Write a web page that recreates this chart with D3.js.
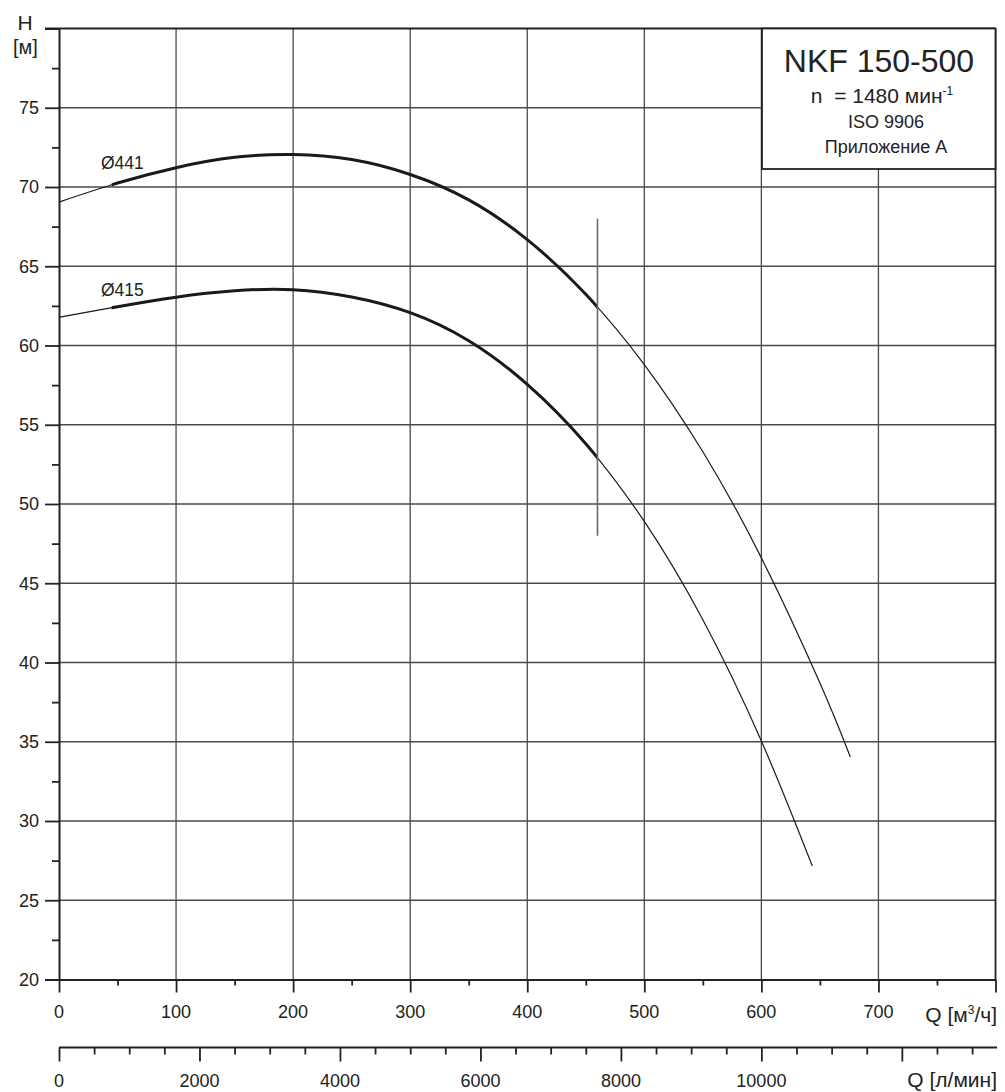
<!DOCTYPE html>
<html>
<head>
<meta charset="utf-8">
<script src="https://cdn.jsdelivr.net/npm/d3@7"></script>
<style>
  html, body { margin: 0; padding: 0; background: #fff; }
  svg { display: block; font-family: "Liberation Sans", Arial, sans-serif; }
  text { fill: #222; }
</style>
</head>
<body>
<svg id="chart" width="1005" height="1092"></svg>
<script>
// ---------- data ----------
const curveNames = ["Ø441", "Ø415"];
const q441 = [0, 50, 100, 150, 200, 250, 300, 350, 400, 450, 500, 550, 600, 650, 676];
const h441 = [69.05, 70.25, 71.22, 71.87, 72.05, 71.73, 70.79, 69.19, 66.68, 63.23, 58.8, 53.3, 46.6, 38.7, 34.04];
const q415 = [0, 50, 100, 150, 200, 250, 300, 350, 400, 450, 500, 550, 600, 643.5];
const h415 = [61.78, 62.45, 63.05, 63.45, 63.52, 63.06, 62.07, 60.3, 57.55, 53.8, 48.9, 42.7, 35.05, 27.16];
const thickRange = [45, 460];
const markerQ = 460;
const markerH = [48, 68];

const hMajor = [20, 25, 30, 35, 40, 45, 50, 55, 60, 65, 70, 75, 80];
const hMinor = [22.5, 27.5, 32.5, 37.5, 42.5, 47.5, 52.5, 57.5, 62.5, 67.5, 72.5, 77.5];
const hLabels = ["20", "25", "30", "35", "40", "45", "50", "55", "60", "65", "70", "75"];
const qMajor = [0, 100, 200, 300, 400, 500, 600, 700, 800];
const qMinor = [50, 150, 250, 350, 450, 550, 650, 750];
const qLabels = ["0", "100", "200", "300", "400", "500", "600", "700"];
const lMajor = [0, 2000, 4000, 6000, 8000, 10000, 12000];
const lMinor = [500, 1000, 1500, 2500, 3000, 3500, 4500, 5000, 5500, 6500, 7000, 7500, 8500, 9000, 9500, 10500, 11000, 11500, 12500, 13000];
const lLabels = ["0", "2000", "4000", "6000", "8000", "10000"];

const title = "NKF 150-500";
const speedText = "n  = 1480 мин";
const speedSup = "-1";
const infoLines = ["ISO 9906", "Приложение А"];
const yTitle = ["H", "[м]"];
const xTitle1 = "Q [м";
const xTitle1Sup = "3";
const xTitle1End = "/ч]";
const xTitle2 = "Q [л/мин]";

// ---------- layout ----------
const svg = d3.select("#chart");
const X0 = 59, X1 = 995.5, Y0 = 979.5, Y1 = 28.5;
const x = d3.scaleLinear().domain([0, 800]).range([X0, X1]);
const xl = d3.scaleLinear().domain([0, 800 * 1000 / 60]).range([X0, X1]);
const y = d3.scaleLinear().domain([20, 80]).range([Y0, Y1]);
const ink = "#222";
const gridCol = "#4a4a4a";

// grid
const grid = svg.append("g");
grid.selectAll("line.v").data(qMajor.filter(d => d > 0 && d < 800)).join("line")
  .attr("x1", d => x(d)).attr("x2", d => x(d)).attr("y1", Y1).attr("y2", Y0)
  .attr("stroke", gridCol).attr("stroke-width", 1.3);
grid.selectAll("line.h").data(hMajor.filter(d => d > 20 && d < 80)).join("line")
  .attr("x1", X0).attr("x2", X1).attr("y1", d => y(d)).attr("y2", d => y(d))
  .attr("stroke", gridCol).attr("stroke-width", 1.3);

// frame top & right
svg.append("line").attr("x1", 45).attr("x2", X1).attr("y1", Y1).attr("y2", Y1)
  .attr("stroke", ink).attr("stroke-width", 1.8);
svg.append("line").attr("x1", X1).attr("x2", X1).attr("y1", Y1).attr("y2", Y0)
  .attr("stroke", ink).attr("stroke-width", 1.8);

// y axis
const yMaj = d3.axisLeft(y).tickValues(hMajor).tickSize(14).tickFormat("");
const yMin = d3.axisLeft(y).tickValues(hMinor).tickSize(7).tickFormat("");
const gy = svg.append("g").attr("transform", `translate(${X0},0)`);
gy.call(yMaj);
gy.append("g").call(yMin).select(".domain").remove();
gy.selectAll("path.domain").attr("stroke", ink).attr("stroke-width", 2);
gy.selectAll(".tick line").attr("stroke", ink).attr("stroke-width", 1.8);
svg.append("g").selectAll("text").data(hLabels).join("text")
  .attr("x", 39).attr("y", d => y(+d) + 6.3)
  .attr("text-anchor", "end").attr("font-size", 18).text(d => d);

// x axis (m3/h)
const gx = svg.append("g").attr("transform", `translate(0,${Y0})`);
gx.call(d3.axisBottom(x).tickValues(qMajor).tickSize(13).tickSizeOuter(0).tickFormat(""));
gx.append("g").call(d3.axisBottom(x).tickValues(qMinor).tickSize(6).tickFormat("")).select(".domain").remove();
gx.selectAll("path.domain").attr("stroke", ink).attr("stroke-width", 2);
gx.selectAll(".tick line").attr("stroke", ink).attr("stroke-width", 1.8);
svg.append("g").selectAll("text").data(qLabels).join("text")
  .attr("x", d => x(+d)).attr("y", 1018)
  .attr("text-anchor", "middle").attr("font-size", 18).text(d => d);
const xt1 = svg.append("text").attr("x", 997).attr("y", 1021.5).attr("text-anchor", "end").attr("font-size", 21);
xt1.append("tspan").text(xTitle1);
xt1.append("tspan").attr("dy", -8).attr("font-size", 12).text(xTitle1Sup);
xt1.append("tspan").attr("dy", 8).text(xTitle1End);

// x axis (l/min)
const LY = 1047.5;
const gl = svg.append("g").attr("transform", `translate(0,${LY})`);
gl.call(d3.axisBottom(xl).tickValues(lMajor).tickSize(14).tickSizeOuter(0).tickFormat(""));
gl.append("g").call(d3.axisBottom(xl).tickValues(lMinor).tickSize(7).tickFormat("")).select(".domain").remove();
gl.selectAll("path.domain").attr("stroke", ink).attr("stroke-width", 1.8).attr("d", `M${X0},0H997`);
gl.selectAll(".tick line").attr("stroke", ink).attr("stroke-width", 1.8);
svg.append("g").selectAll("text").data(lLabels).join("text")
  .attr("x", d => xl(+d)).attr("y", 1086.5)
  .attr("text-anchor", "middle").attr("font-size", 18).text(d => d);
svg.append("text").attr("x", 997).attr("y", 1087).attr("text-anchor", "end")
  .attr("font-size", 21).text(xTitle2);

// y title
svg.append("text").attr("x", 25).attr("y", 30).attr("text-anchor", "middle").attr("font-size", 21).text(yTitle[0]);
svg.append("text").attr("x", 25.5).attr("y", 54).attr("text-anchor", "middle").attr("font-size", 20).text(yTitle[1]);

// curves: thin full curve + thick clipped section over the operating range
svg.append("defs").append("clipPath").attr("id", "thickClip").append("rect")
  .attr("x", x(thickRange[0])).attr("width", x(thickRange[1]) - x(thickRange[0]))
  .attr("y", Y1).attr("height", Y0 - Y1);
const line = d3.line().x(d => x(d[0])).y(d => y(d[1])).curve(d3.curveNatural);
const series = [d3.zip(q441, h441), d3.zip(q415, h415)];
const cg = svg.append("g");
series.forEach(pts => {
  cg.append("path").attr("d", line(pts)).attr("fill", "none")
    .attr("stroke", "#1a1a1a").attr("stroke-width", 1.2);
  cg.append("path").attr("d", line(pts)).attr("clip-path", "url(#thickClip)")
    .attr("fill", "none").attr("stroke", "#1a1a1a").attr("stroke-width", 3);
});
// curve labels
const labelY = [169, 296];
svg.append("g").selectAll("text").data(curveNames).join("text")
  .attr("x", 101).attr("y", (d, i) => labelY[i])
  .attr("font-size", 17.5).text(d => d);

// marker line
svg.append("line").attr("x1", x(markerQ)).attr("x2", x(markerQ))
  .attr("y1", y(markerH[1])).attr("y2", y(markerH[0]))
  .attr("stroke", "#6a6a6a").attr("stroke-width", 1.6);

// info box
const bx0 = 762, bx1 = X1, by0 = Y1, by1 = 169;
svg.append("rect").attr("x", bx0).attr("y", by0).attr("width", bx1 - bx0).attr("height", by1 - by0)
  .attr("fill", "#fff").attr("stroke", ink).attr("stroke-width", 1.8);
svg.append("text").attr("x", 879).attr("y", 72).attr("text-anchor", "middle")
  .attr("font-size", 32).text(title);
const st = svg.append("text").attr("x", 882).attr("y", 103).attr("text-anchor", "middle")
  .attr("font-size", 21).style("white-space", "pre");
st.append("tspan").text(speedText);
st.append("tspan").attr("dy", -8).attr("font-size", 12).text(speedSup);
svg.append("g").selectAll("text").data(infoLines).join("text")
  .attr("x", 886).attr("y", (d, i) => 128 + i * 25).attr("text-anchor", "middle")
  .attr("font-size", 18).text(d => d);
</script>
</body>
</html>
